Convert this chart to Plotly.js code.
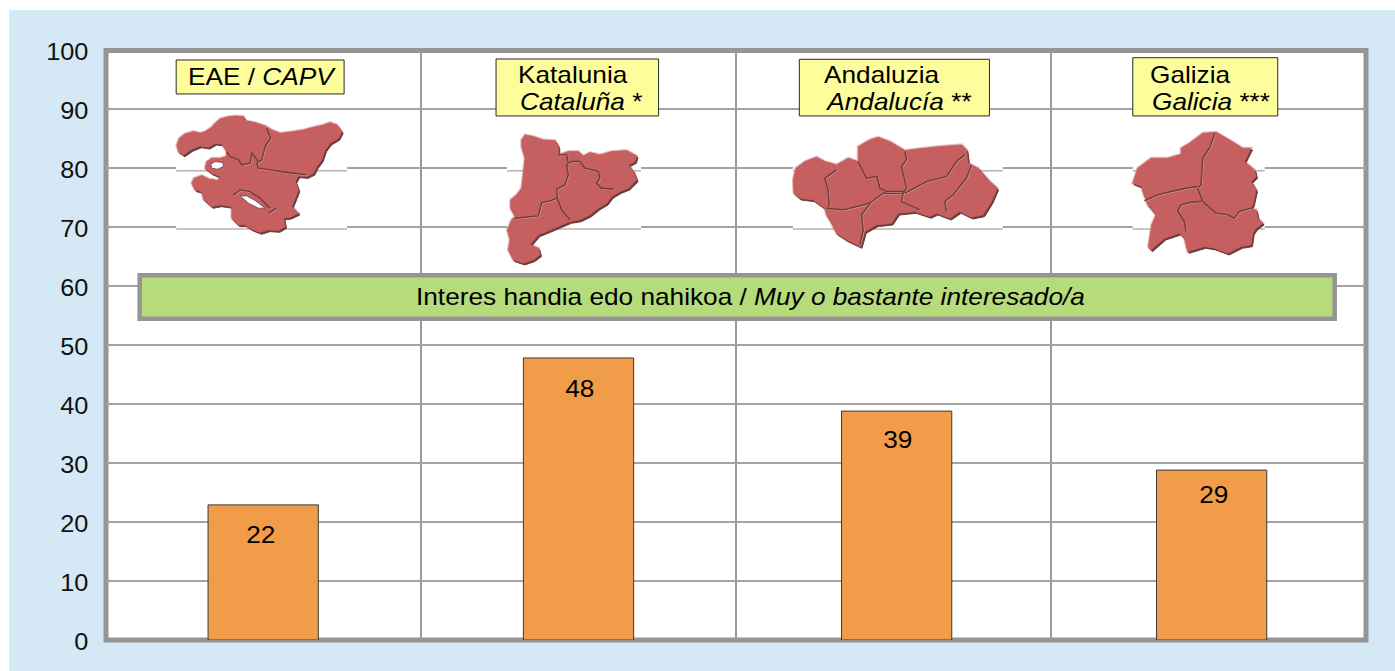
<!DOCTYPE html>
<html>
<head>
<meta charset="utf-8">
<script src="https://cdn.plot.ly/plotly-3.0.1.min.js"></script>
<style>html,body{margin:0;padding:0;background:#fff}#chart{width:1395px;height:671px}</style>
</head>
<body>
<div id="chart"></div>
<script>
// ---- chart data ----
const regionPositions = [0.499, 1.5, 2.51, 3.51];
const barValues = [22.9, 47.8, 38.8, 28.8];
const valueLabels = ["22", "48", "39", "29"];
const yTicks = [0, 10, 20, 30, 40, 50, 60, 70, 80, 90, 100];
const bannerText = "Interes handia edo nahikoa / <i>Muy o bastante interesado/a</i>";
const regionLineOne = ["EAE / <i>CAPV</i>", "Katalunia", "Andaluzia", "Galizia"];
const regionLineTwo = ["", "<i>Cataluña</i> *", "<i>Andalucía</i> **", "<i>Galicia</i> ***"];

// ---- page geometry (pixels) ----
const W = 1395, H = 671;
const L = 105.8, R = 1366.3, T = 50, B = 640.5;
const px = x => (x - L) / (R - L);
const py = y => (B - y) / (B - T);
const FONT = '"Liberation Sans", Arial, sans-serif';
const GREY = '#959595';
const TEXT_STRETCH = 1.14;
const TICK_STRETCH = 1.1;

function rect(x0, y0, x1, y1, fill, line, lw, layer) {
  return {type:'rect', xref:'paper', yref:'paper', x0:px(x0), x1:px(x1), y0:py(y1), y1:py(y0),
    fillcolor:fill, line:{color:line||'rgba(0,0,0,0)', width:lw||0}, layer:layer||'above'};
}
function hline(x0, x1, y, color, w) {
  return {type:'line', xref:'paper', yref:'paper', x0:px(x0), x1:px(x1), y0:py(y), y1:py(y),
    line:{color:color, width:w}, layer:'above'};
}
// decorative map silhouettes: outlines at 3x
function pathOf(points, ox, oy, dx, dy, close) {
  const s = points.map((p, i) => {
    const x = ox + p[0] / 3 + (dx||0), y = oy + p[1] / 3 + (dy||0);
    return (i ? 'L' : 'M') + px(x).toFixed(5) + ',' + py(y).toFixed(5);
  }).join(' ');
  return s + (close ? ' Z' : '');
}
function mapShapes(m) {
  const out = [];
  const add = (pts, fill, color, width, dx, dy, close) => out.push({type:'path', xref:'paper', yref:'paper',
    path:pathOf(pts, m.ox, m.oy, dx, dy, close), fillcolor:fill, line:{color:color, width:width}, layer:'above'});
  add(m.outline, 'rgba(210,130,130,0.6)', 'rgba(215,140,140,0.5)', 3, 0, 0, true);
  add(m.outline, '#6a3c3c', '#6a3c3c', 1, 1.4, 1.8, true);
  add(m.outline, '#c55f60', '#c55f60', 0.8, 0, 0, true);
  (m.holes||[]).forEach(h => add(h, '#ffffff', '#7d4a4a', 0.9, 0, 0, true));
  (m.borders||[]).forEach(b => {
    out.push({type:'path', xref:'paper', yref:'paper', path:pathOf(b, m.ox, m.oy, 0.8, 0.8, false),
      line:{color:'#e0a0a0', width:0.9}, layer:'above'});
    add(b, 'rgba(0,0,0,0)', '#6a3c3c', 1.4, 0, 0, false);
  });
  return out;
}
const maps = [
 {ox:170, oy:110,
  outline:[[20,105],[28,85],[45,72],[70,65],[90,70],[105,65],[125,52],[135,40],[150,27],[175,20],[200,18],[220,20],[225,32],[255,38],[285,48],[305,60],[330,70],[370,65],[400,60],[430,52],[460,45],[480,38],[500,45],[515,65],[505,85],[480,100],[465,120],[455,150],[440,170],[430,190],[410,200],[385,198],[375,215],[385,240],[375,265],[365,290],[385,310],[360,322],[340,325],[345,350],[325,362],[295,360],[270,368],[245,358],[225,345],[205,345],[185,325],[185,290],[150,285],[125,290],[100,268],[95,245],[75,240],[65,220],[72,205],[95,197],[115,207],[143,212],[150,200],[125,190],[105,175],[110,155],[125,145],[150,145],[168,140],[170,125],[155,102],[135,100],[115,112],[90,108],[65,118],[40,135],[25,125]],
  holes:[[[122,162],[135,155],[158,158],[160,170],[142,178],[125,175]],[[210,258],[230,258],[255,272],[285,295],[265,295],[235,280]]],
  borders:[[[290,55],[302,85],[285,110],[275,150],[260,160],[265,175],[300,180],[330,185],[370,190],[410,195]],[[265,155],[245,130],[240,160],[215,165],[205,150],[180,140],[170,125]],[[190,255],[210,240],[240,245],[270,265],[300,295]],[[295,310],[320,295]]]},
 {ox:500, oy:130,
  outline:[[65,30],[75,15],[100,20],[130,30],[165,32],[175,50],[175,75],[205,65],[235,65],[250,78],[270,68],[300,75],[335,65],[380,62],[410,78],[405,95],[385,105],[400,125],[410,150],[385,175],[360,185],[335,200],[320,220],[295,235],[270,255],[240,270],[210,275],[175,290],[140,305],[115,315],[90,345],[115,355],[120,375],[100,390],[70,400],[40,390],[25,360],[30,330],[22,300],[35,270],[45,260],[32,235],[32,210],[50,195],[65,175],[70,130],[75,85],[65,50]],
  borders:[[[240,95],[215,95],[200,105],[205,135],[195,165],[170,178],[172,205]],[[45,265],[115,258],[125,218],[150,213],[172,205],[185,240],[210,270]],[[240,95],[255,115],[295,125],[300,145],[290,160],[305,175],[340,178]],[[175,75],[200,75],[205,100]]]},
 {ox:790, oy:130,
  outline:[[10,150],[18,115],[45,95],[80,82],[105,95],[140,105],[175,85],[205,95],[205,50],[240,30],[265,22],[300,35],[345,62],[400,55],[450,50],[515,45],[530,60],[535,100],[565,115],[595,150],[622,175],[605,215],[580,255],[545,262],[510,245],[480,265],[440,250],[420,260],[375,245],[325,250],[305,280],[260,285],[225,305],[212,350],[170,330],[140,310],[125,280],[110,255],[105,235],[70,210],[30,205],[12,190]],
  borders:[[[140,120],[105,145],[115,180],[118,230]],[[110,235],[160,240],[210,228],[240,220],[280,190],[340,190]],[[205,95],[230,145],[262,140],[270,175],[290,185],[340,185]],[[345,65],[350,90],[335,110],[350,175],[340,190]],[[345,190],[410,155],[470,140],[500,95],[525,75]],[[545,105],[530,145],[490,195],[465,215],[470,245]],[[340,190],[335,215],[390,240]],[[240,222],[215,255],[220,300],[210,345]]]},
 {ox:1128, oy:125,
  outline:[[160,70],[185,55],[225,25],[265,22],[305,45],[345,70],[370,70],[350,110],[380,135],[385,155],[370,170],[385,195],[375,240],[365,255],[385,255],[390,280],[405,295],[385,310],[375,325],[370,360],[340,365],[300,385],[260,370],[230,365],[180,380],[170,340],[155,325],[110,340],[70,375],[62,365],[72,300],[85,270],[60,240],[45,200],[42,185],[15,175],[30,130],[70,100],[120,100],[160,88]],
  borders:[[[262,25],[245,70],[225,100],[220,180],[210,190],[225,230],[265,265],[300,270],[320,280],[335,260],[370,250]],[[50,228],[90,210],[130,200],[175,190],[210,185]],[[222,230],[190,232],[160,240],[150,258],[170,290],[175,320]]]}
];

// map image backgrounds: white patches with their own faint rules
const patches = [[176,347],[507,641],[793,1003],[1133,1265]];
const labelBoxes = [[176,60,344,94],[496,59,658.6,116],[799.4,59.3,989.6,116],[1133,57.7,1278,116]];
const textLeft = [[187,187],[517,518.5],[823.5,824.5],[1149.5,1151.5]];

const shapes = [
  rect(9, 10, W + 5, H + 5, '#d5e8f5', null, 0, 'below'),
  rect(L, T + 0.5, R, B, '#ffffff', GREY, 5, 'below')
];
patches.forEach(p => {
  shapes.push(rect(p[0], 165, p[1], 232, '#ffffff'));
  shapes.push(hline(p[0], p[1], 170.8, '#b4b4b4', 1.5));
  shapes.push(hline(p[0], p[1], 229.2, '#b4b4b4', 1.5));
});
const mapShapeIndexes = [];
maps.forEach(m => mapShapes(m).forEach(s => { mapShapeIndexes.push(shapes.length); shapes.push(s); }));
labelBoxes.forEach(b => shapes.push(rect(b[0], b[1], b[2], b[3], '#fdfd9b', '#2a2a2a', 1)));
shapes.push(rect(139.5, 275.5, 1335, 319, '#b5db7a', GREY, 4.5));

const annotations = [];
const note = (x, y, text, size, anchor) => annotations.push({xref:'paper', yref:'paper', x:px(x), y:py(y),
  text:text, showarrow:false, xanchor:anchor||'left', yanchor:'middle', borderpad:0,
  font:{family:FONT, size:size, color:'#000'}});
regionLineOne.forEach((t, i) => {
  note(textLeft[i][0], i === 0 ? 77 : 75, t, 23);
  if (regionLineTwo[i]) note(textLeft[i][1], 102, regionLineTwo[i], 23);
});
note(750.5, 297.5, bannerText, 23, 'center');
const labelYShift = [-30, -31, -29, -25];
const labelXShift = [-2, 1, 1.5, 2.5];
valueLabels.forEach((t, i) => annotations.push({xref:'x', yref:'y', x:regionPositions[i], y:barValues[i],
  text:t, showarrow:false, yshift:labelYShift[i], xshift:labelXShift[i], yanchor:'middle', xanchor:'center',
  font:{family:FONT, size:23, color:'#000'}}));

const traces = [{
  type:'bar', x:regionPositions, y:barValues, width:0.35,
  marker:{color:'#f09c48', line:{color:'#3a3a3a', width:1}},
  hoverinfo:'skip', showlegend:false
}];

const layout = {
  width:W, height:H, autosize:false,
  margin:{l:L, r:W - R, t:T, b:H - B, pad:0},
  paper_bgcolor:'#ffffff', plot_bgcolor:'rgba(0,0,0,0)',
  showlegend:false, hovermode:false,
  xaxis:{range:[0,4], tickvals:[1,2,3], ticktext:['','',''], showticklabels:false, ticks:'',
    showgrid:true, gridcolor:'#9a9a9a', gridwidth:2.6, zeroline:false, showline:false, fixedrange:true},
  yaxis:{range:[0,100], tickvals:yTicks, ticks:'outside', ticklen:12, tickcolor:'rgba(0,0,0,0)',
    showgrid:true, gridcolor:'#a3a3a3', gridwidth:2, zeroline:false, showline:false, fixedrange:true,
    tickfont:{family:FONT, size:23, color:'#111'}},
  shapes:shapes, annotations:annotations
};

// the reference's text is a little wider than the font's natural proportions
function stretch(el, originX, shiftY, factor) {
  const old = el.getAttribute('transform') || '';
  el.setAttribute('transform', old + ' translate(' + originX + ',' + (shiftY||0) + ') scale(' + factor + ',1) translate(' + (-originX) + ',0)');
}
Plotly.newPlot('chart', traces, layout, {displayModeBar:false, staticPlot:true}).then(gd => {
  gd.querySelectorAll('.ytick text').forEach(t => {
    const b = t.getBBox();
    stretch(t, b.x + b.width, 2, TICK_STRETCH);
  });
  gd.querySelectorAll('.annotation').forEach(g => {
    const t = g.querySelector('text');
    if (!t) return;
    const a = annotations[+g.getAttribute('data-index')];
    const b = t.getBBox();
    stretch(t, a && a.xanchor === 'left' ? b.x : b.x + b.width / 2, 0, TEXT_STRETCH);
  });
  mapShapeIndexes.forEach(i => {
    const p = gd.querySelector('.layer-above .shapelayer path[data-index="' + i + '"]');
    if (p) p.style.filter = 'blur(0.6px)';
  });
});
</script>
</body>
</html>
